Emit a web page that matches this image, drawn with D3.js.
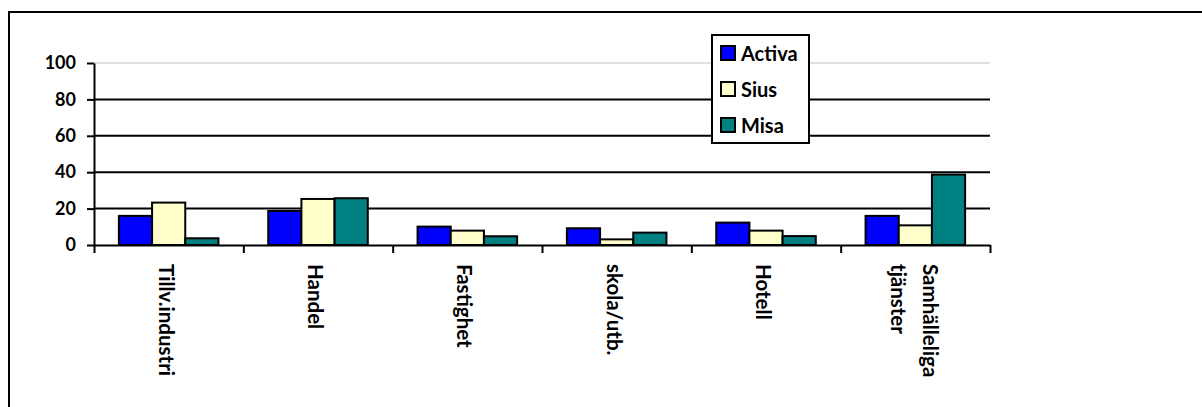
<!DOCTYPE html>
<html>
<head>
<meta charset="utf-8">
<script src="https://cdn.jsdelivr.net/npm/d3@7"></script>
<style>
  body { margin: 0; background: #fff; }
  text { font-family: Lato, "Open Sans", sans-serif; font-weight: bold; fill: #000; }
</style>
</head>
<body>
<div id="chart"></div>
<script>
// chart data
var categories = ["Tillv.industri", "Handel", "Fastighet", "skola/utb.", "Hotell", "Samhälleliga tjänster"];
var seriesNames = ["Activa", "Sius", "Misa"];
var activa = [16, 18.7, 10.1, 9.2, 12.3, 16];
var sius = [23.3, 25.3, 7.9, 3.1, 7.9, 10.8];
var misa = [3.7, 25.7, 4.8, 6.8, 4.9, 38.7];
var yTicks = [0, 20, 40, 60, 80, 100];
var colors = ["#0000ff", "#ffffcc", "#008080"];

var svgWidth = 1202;
var svgHeight = 407;

var svg = d3.select("#chart")
  .append("svg")
  .attr("width", svgWidth)
  .attr("height", svgHeight);

// outer frame (runs past the right and bottom edges)
svg.append("rect")
  .attr("x", 9)
  .attr("y", 12)
  .attr("width", 1220)
  .attr("height", 420)
  .attr("fill", "none")
  .attr("stroke", "#000")
  .attr("stroke-width", 2);

// scales
var x = d3.scaleBand().domain(categories).range([94, 990]);
var bw = x.bandwidth();
var xInner = d3.scaleBand().domain(seriesNames).range([bw / 6, bw * 5 / 6]);
var y = d3.scaleLinear().domain([0, 100]).range([245, 63]);
var xEdges = d3.scaleLinear().domain([0, categories.length]).range([94, 990]);

// gridlines
svg.append("g")
  .selectAll("line")
  .data(yTicks.filter(d => d > 0))
  .enter()
  .append("line")
  .attr("x1", 94)
  .attr("x2", 990)
  .attr("y1", d => y(d))
  .attr("y2", d => y(d))
  .attr("stroke", d => d === 100 ? "#c0c0c0" : "#000")
  .attr("stroke-width", d => d === 100 ? 1 : 2);

// bars
var seriesData = [activa, sius, misa];
var barGroups = svg.append("g")
  .selectAll("g")
  .data(seriesNames)
  .enter()
  .append("g")
  .attr("fill", (d, i) => colors[i]);

barGroups.selectAll("rect")
  .data((s, i) => seriesData[i].map((v, j) => ({ cat: categories[j], s: s, v: v })))
  .enter()
  .append("rect")
  .attr("x", d => x(d.cat) + xInner(d.s))
  .attr("width", xInner.bandwidth())
  .attr("y", d => y(d.v))
  .attr("height", d => y(0) - y(d.v))
  .attr("stroke", "#000")
  .attr("stroke-width", 2);

// y axis
var yAxis = svg.append("g")
  .attr("transform", "translate(94,0)")
  .call(d3.axisLeft(y).tickValues(yTicks).tickSize(7).tickSizeOuter(0).tickPadding(11));
yAxis.select(".domain").attr("stroke-width", 2);
yAxis.selectAll(".tick line").attr("stroke-width", 2);
yAxis.selectAll(".tick text")
  .style("font-size", "18px")
  .style("font-family", "Lato, sans-serif")
  .style("font-weight", "bold");

// x axis with ticks between categories
var xAxis = svg.append("g")
  .attr("transform", "translate(0,245)")
  .call(d3.axisBottom(xEdges).ticks(categories.length).tickSize(8).tickSizeOuter(0).tickFormat(""));
xAxis.select(".domain").attr("stroke-width", 2);
xAxis.selectAll(".tick line").attr("stroke-width", 2);

// category labels, rotated
var catLabels = svg.append("g")
  .selectAll("text")
  .data(categories)
  .enter()
  .append("text")
  .attr("transform", d => `translate(${x(d) + bw / 2},264) rotate(90)`)
  .style("font-size", "20.5px");

catLabels.each(function(d) {
  var lines = d.split(" ");
  var t = d3.select(this);
  if (lines.length === 1) {
    t.append("tspan").attr("x", 0).attr("y", 10).text(d);
  } else {
    t.append("tspan").attr("x", 0).attr("y", -8).text(lines[0]);
    t.append("tspan").attr("x", 0).attr("y", 24).text(lines[1]);
  }
});

// legend
var legend = svg.append("g");
legend.append("rect")
  .attr("x", 712)
  .attr("y", 35)
  .attr("width", 97)
  .attr("height", 108)
  .attr("fill", "#fff")
  .attr("stroke", "#000")
  .attr("stroke-width", 2);

var legendItems = legend.selectAll(".item")
  .data(seriesNames)
  .enter()
  .append("g")
  .attr("class", "item")
  .attr("transform", (d, i) => `translate(0,${i * 36})`);

legendItems.append("rect")
  .attr("x", 721)
  .attr("y", 46)
  .attr("width", 14)
  .attr("height", 14)
  .attr("fill", (d, i) => colors[i])
  .attr("stroke", "#000")
  .attr("stroke-width", 2);

legendItems.append("text")
  .attr("x", 741)
  .attr("y", 61)
  .style("font-size", "20px")
  .text(d => d);
</script>
</body>
</html>
